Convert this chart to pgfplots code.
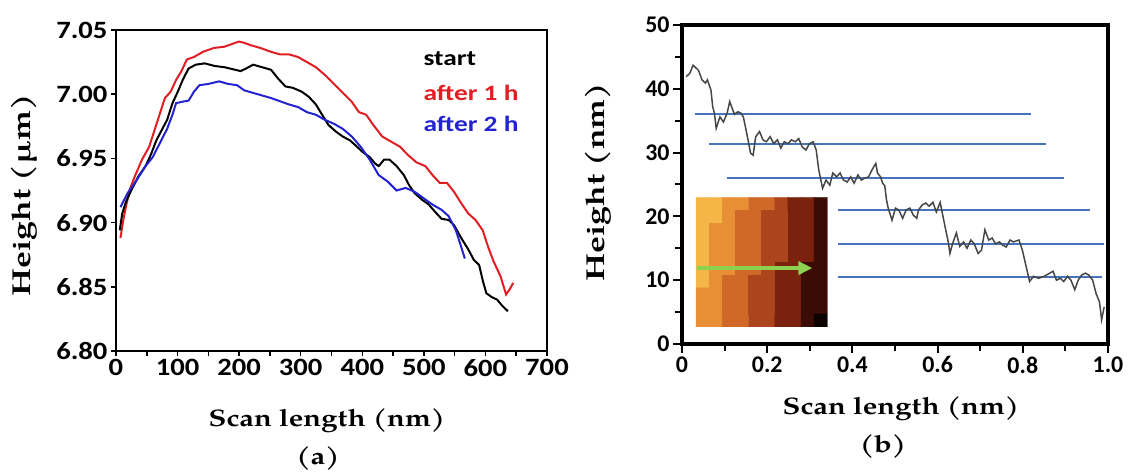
\documentclass[border=0pt]{standalone}
\usepackage{pgfplots}
\pgfplotsset{compat=1.18}
\usepackage{fontspec}
\usetikzlibrary{arrows.meta}
\setmainfont{Carlito}
\newfontfamily\tickA{Carlito}[FakeStretch=1.15]
\newfontfamily\tickB{Carlito}
\newfontfamily\legf{Carlito}[FakeStretch=1.25]
\newfontfamily\pal{texgyrepagella-bold}[Extension=.otf, FakeStretch=1.22]
\newfontfamily\palv{texgyrepagella-bold}[Extension=.otf, FakeStretch=1.3]
\definecolor{cred}{RGB}{225,30,35}
\definecolor{cblue}{RGB}{35,35,210}
\definecolor{lineblue}{RGB}{70,115,190}
\definecolor{arrowgreen}{RGB}{140,210,80}
\definecolor{profile}{RGB}{70,70,70}

\begin{document}
\begin{tikzpicture}
\path[use as bounding box] (0bp,0bp) rectangle (1129bp,475bp);

% ---------- panel (a)
\begin{axis}[
    at={(116bp,124bp)}, anchor=south west,
    width=431bp, height=321bp, scale only axis,
    xmin=0, xmax=700, ymin=6.80, ymax=7.05,
    xtick={0,100,...,700}, minor x tick num=1,
    ytick={6.80,6.85,6.90,6.95,7.00,7.05},
    yticklabel style={/pgf/number format/fixed,
      /pgf/number format/precision=2, /pgf/number format/fixed zerofill},
    /pgf/number format/assume math mode=true,
    tick label style={font=\tickA\bfseries\fontsize{25}{29}\selectfont},
    tick align=outside, tick pos=left,
    major tick length=5bp, minor tick length=5bp,
    tick style={line width=1.5bp, black},
    axis line style={line width=2.5bp},
  ]
  \addplot[cred, line width=2bp] coordinates {
    (7.2,6.888) (11.9,6.902) (16,6.912) (21.8,6.925) (30.5,6.936) (42.2,6.949)
    (53.8,6.959) (62.6,6.972) (71.3,6.985) (79.4,6.997) (88.8,7.002) (97.5,7.011)
    (106.3,7.018) (115,7.027) (126.7,7.029) (141.3,7.033) (158.8,7.036)
    (176.3,7.037) (187.9,7.039) (199.6,7.041) (208.3,7.040) (220,7.038)
    (234.5,7.036) (251.9,7.033) (266.5,7.031) (281,7.031) (295.6,7.029)
    (310.2,7.025) (324.7,7.021) (339.3,7.015) (353.9,7.008) (368.4,7.001)
    (383,6.994) (394.7,6.986) (406.3,6.984) (418,6.976) (432.5,6.967)
    (447.1,6.963) (461.6,6.959) (473.3,6.953) (487.8,6.947) (502.4,6.944)
    (514.1,6.937) (525.7,6.931) (537.4,6.931) (549,6.924) (560.7,6.915)
    (572.3,6.907) (584,6.902) (595.6,6.894) (604.4,6.881) (613.1,6.870)
    (624.7,6.858) (633.5,6.844) (639.3,6.848) (645.2,6.853)
  };
  \addplot[black, line width=2bp] coordinates {
    (6.1,6.894) (10.1,6.907) (16,6.916) (24.7,6.925) (36.4,6.936) (48,6.944)
    (56.7,6.953) (65.5,6.964) (74.2,6.972) (83,6.980) (91.7,6.993) (100.4,7.002)
    (109.2,7.012) (117.9,7.020) (129.6,7.023) (144.2,7.024) (160.1,7.022)
    (176.3,7.021) (193.7,7.019) (202.5,7.018) (211.2,7.020) (222.8,7.023)
    (237.4,7.021) (251.9,7.019) (263.6,7.012) (275.3,7.006) (286.9,7.005)
    (301.5,7.002) (313.1,6.998) (324.7,6.992) (333.5,6.985) (345.1,6.976)
    (356.8,6.971) (368.4,6.967) (380.1,6.964) (391.7,6.959) (400.5,6.955)
    (412.1,6.951) (420.8,6.946) (426.7,6.944) (435.4,6.949) (444.2,6.949)
    (455.8,6.944) (467.5,6.937) (476.2,6.929) (485,6.923) (496.6,6.918)
    (508.2,6.914) (517,6.909) (528.7,6.903) (540.3,6.902) (549,6.898)
    (560.7,6.888) (572.3,6.879) (581.1,6.871) (589.8,6.867) (595.6,6.855)
    (601.5,6.845) (610.2,6.842) (619,6.840) (627.7,6.835) (636.4,6.831)
  };
  \addplot[cblue, line width=2bp] coordinates {
    (7.2,6.912) (18.9,6.923) (33.5,6.933) (48,6.944) (59.7,6.951) (71.3,6.962)
    (83,6.973) (91.7,6.984) (97.5,6.993) (106.3,6.994) (117.9,6.995)
    (126.7,7.002) (135.5,7.007) (150,7.008) (167.5,7.010) (182.1,7.008)
    (196.7,7.007) (208.3,7.003) (222.8,7.001) (237.4,6.999) (251.9,6.997)
    (269.4,6.994) (281,6.992) (295.6,6.990) (310.2,6.986) (324.7,6.984)
    (339.3,6.980) (353.9,6.977) (368.4,6.973) (383,6.967) (397.6,6.959)
    (412.1,6.949) (426.7,6.937) (441.2,6.932) (455.8,6.925) (470.4,6.927)
    (485,6.924) (499.5,6.919) (514.1,6.914) (528.7,6.910) (540.3,6.905)
    (552,6.894) (560.7,6.881) (566.5,6.872)
  };
\end{axis}
\node[anchor=base west, font=\legf\bfseries\fontsize{22}{25}\selectfont, black] at (420bp,409bp) {start};
\node[anchor=base west, font=\legf\bfseries\fontsize{22}{25}\selectfont, cred] at (420bp,374bp) {after 1 h};
\node[anchor=base west, font=\legf\bfseries\fontsize{22}{25}\selectfont, cblue] at (420bp,343bp) {after 2 h};
\node[rotate=90, font=\palv\fontsize{26}{30}\selectfont] at (24bp,280bp) {Height (µm)};
\node[font=\pal\fontsize{24}{28}\selectfont] at (327bp,54bp) {Scan length (nm)};
\node[font=\pal\fontsize{24}{28}\selectfont] at (318bp,16bp) {(a)};

% ---------- panel (b)
\begin{axis}[
    at={(682bp,131bp)}, anchor=south west,
    width=426bp, height=319bp, scale only axis,
    xmin=0, xmax=1, ymin=0, ymax=50,
    xtick={0,0.2,...,1.0}, minor x tick num=1,
    ytick={0,10,...,50}, minor y tick num=1,
    xticklabels={0,0.2,0.4,0.6,0.8,1.0},
    /pgf/number format/assume math mode=true,
    tick label style={font=\tickB\bfseries\fontsize{24}{28}\selectfont},
    tick align=outside, tick pos=left,
    major tick length=9bp, minor tick length=7bp,
    tick style={line width=2bp, black},
    axis line style={line width=3.5bp},
    colormap={afm}{rgb255=(245,182,72) rgb255=(232,142,52) rgb255=(208,104,40)
      rgb255=(172,68,28) rgb255=(122,34,14) rgb255=(58,12,3) rgb255=(14,2,0)},
    point meta min=0, point meta max=6,
  ]
  % inset height map (banded terraces), one cell per coordinate
  \addplot[matrix plot*, mesh/cols=10, point meta=explicit] coordinates {
    (0.0484,21.985) [0] (0.0792,21.985) [0] (0.1100,21.985) [1] (0.1408,21.985) [1] (0.1716,21.985) [2]
    (0.2024,21.985) [2] (0.2332,21.985) [3] (0.2640,21.985) [4] (0.2948,21.985) [4] (0.3256,21.985) [5]

    (0.0484,19.955) [0] (0.0792,19.955) [0] (0.1100,19.955) [1] (0.1408,19.955) [2] (0.1716,19.955) [2]
    (0.2024,19.955) [3] (0.2332,19.955) [3] (0.2640,19.955) [4] (0.2948,19.955) [4] (0.3256,19.955) [5]

    (0.0484,17.925) [0] (0.0792,17.925) [1] (0.1100,17.925) [1] (0.1408,17.925) [2] (0.1716,17.925) [2]
    (0.2024,17.925) [3] (0.2332,17.925) [3] (0.2640,17.925) [4] (0.2948,17.925) [4] (0.3256,17.925) [5]

    (0.0484,15.895) [0] (0.0792,15.895) [1] (0.1100,15.895) [1] (0.1408,15.895) [2] (0.1716,15.895) [2]
    (0.2024,15.895) [3] (0.2332,15.895) [3] (0.2640,15.895) [4] (0.2948,15.895) [4] (0.3256,15.895) [5]

    (0.0484,13.865) [0] (0.0792,13.865) [1] (0.1100,13.865) [1] (0.1408,13.865) [2] (0.1716,13.865) [2]
    (0.2024,13.865) [3] (0.2332,13.865) [3] (0.2640,13.865) [4] (0.2948,13.865) [4] (0.3256,13.865) [5]

    (0.0484,11.835) [0] (0.0792,11.835) [1] (0.1100,11.835) [1] (0.1408,11.835) [2] (0.1716,11.835) [2]
    (0.2024,11.835) [3] (0.2332,11.835) [4] (0.2640,11.835) [4] (0.2948,11.835) [5] (0.3256,11.835) [5]

    (0.0484,9.805) [0] (0.0792,9.805) [1] (0.1100,9.805) [2] (0.1408,9.805) [2] (0.1716,9.805) [3]
    (0.2024,9.805) [3] (0.2332,9.805) [4] (0.2640,9.805) [4] (0.2948,9.805) [5] (0.3256,9.805) [5]

    (0.0484,7.775) [1] (0.0792,7.775) [1] (0.1100,7.775) [2] (0.1408,7.775) [2] (0.1716,7.775) [3]
    (0.2024,7.775) [3] (0.2332,7.775) [4] (0.2640,7.775) [4] (0.2948,7.775) [5] (0.3256,7.775) [5]

    (0.0484,5.745) [1] (0.0792,5.745) [1] (0.1100,5.745) [2] (0.1408,5.745) [2] (0.1716,5.745) [3]
    (0.2024,5.745) [3] (0.2332,5.745) [4] (0.2640,5.745) [4] (0.2948,5.745) [5] (0.3256,5.745) [5]

    (0.0484,3.715) [1] (0.0792,3.715) [1] (0.1100,3.715) [2] (0.1408,3.715) [2] (0.1716,3.715) [3]
    (0.2024,3.715) [3] (0.2332,3.715) [4] (0.2640,3.715) [4] (0.2948,3.715) [5] (0.3256,3.715) [6]
  };
  \addplot[arrowgreen, line width=4.5bp, -{Triangle[length=14bp,width=13bp]}]
    coordinates {(0.035,11.9) (0.306,11.9)};
  % terrace guide lines
  \addplot[lineblue, line width=2bp] coordinates {(0.031,36.0) (0.820,36.0)};
  \addplot[lineblue, line width=2bp] coordinates {(0.064,31.4) (0.854,31.4)};
  \addplot[lineblue, line width=2bp] coordinates {(0.106,26.0) (0.896,26.0)};
  \addplot[lineblue, line width=2bp] coordinates {(0.367,21.0) (0.957,21.0)};
  \addplot[lineblue, line width=2bp] coordinates {(0.367,15.7) (0.990,15.7)};
  \addplot[lineblue, line width=2bp] coordinates {(0.367,10.5) (0.987,10.5)};
  % line profile
  \addplot[profile, line width=1.5bp] coordinates {
    (0.0096,41.9) (0.018,42.4) (0.026,43.7) (0.0386,42.9) (0.047,41.4)
    (0.055,40.9) (0.0595,41.4) (0.068,39.8) (0.072,37.2) (0.076,36.2)
    (0.0803,33.8) (0.089,35.6) (0.0973,34.8) (0.106,36.2) (0.112,38.0)
    (0.123,36.0) (0.131,36.4) (0.138,36.2) (0.144,35.6) (0.152,33.0)
    (0.161,29.9) (0.167,29.6) (0.173,32.5) (0.182,33.3) (0.190,32.0)
    (0.198,31.7) (0.207,32.5) (0.215,31.4) (0.224,32.0) (0.232,30.7)
    (0.240,31.7) (0.249,31.4) (0.257,32.0) (0.266,31.7) (0.274,32.2)
    (0.282,30.9) (0.291,30.4) (0.299,31.4) (0.308,31.7) (0.315,30.4)
    (0.321,27.3) (0.330,24.4) (0.338,25.7) (0.347,24.9) (0.354,26.8)
    (0.363,26.2) (0.371,26.8) (0.379,25.7) (0.388,25.4) (0.396,26.2)
    (0.404,25.2) (0.413,26.5) (0.421,25.7) (0.429,26.0) (0.438,26.2)
    (0.446,27.3) (0.455,28.3) (0.459,26.8) (0.466,26.2) (0.471,25.2)
    (0.476,24.8) (0.480,22.6) (0.484,21.3) (0.493,19.4) (0.501,21.3)
    (0.509,21.0) (0.518,19.7) (0.526,21.0) (0.535,21.3) (0.543,20.2)
    (0.551,19.7) (0.555,21.0) (0.564,21.8) (0.572,22.1) (0.580,21.6)
    (0.589,22.2) (0.597,20.7) (0.606,22.2) (0.612,20.2) (0.619,17.9)
    (0.625,16.0) (0.629,14.2) (0.635,15.7) (0.644,17.4) (0.652,15.3)
    (0.661,16.0) (0.669,15.0) (0.678,16.3) (0.686,15.7) (0.695,14.2)
    (0.703,14.7) (0.711,17.9) (0.720,16.3) (0.728,16.6) (0.736,15.7)
    (0.745,16.0) (0.753,15.5) (0.761,15.2) (0.770,16.3) (0.778,16.0)
    (0.791,16.3) (0.799,14.7) (0.808,12.1) (0.816,9.8) (0.825,10.6)
    (0.837,10.3) (0.850,10.6) (0.863,11.1) (0.871,11.4) (0.879,10.0)
    (0.888,10.3) (0.896,9.8) (0.905,10.6) (0.913,10.0) (0.922,8.5)
    (0.930,10.0) (0.938,10.8) (0.947,11.1) (0.955,10.8) (0.964,10.0)
    (0.972,7.9) (0.980,6.6) (0.985,3.8) (0.991,5.8)
  };
\end{axis}
\node[rotate=90, font=\palv\fontsize{26}{30}\selectfont] at (598bp,293bp) {Height (nm)};
\node[font=\pal\fontsize{24}{28}\selectfont] at (901bp,66bp) {Scan length (nm)};
\node[font=\pal\fontsize{24}{28}\selectfont] at (883bp,28bp) {(b)};
\end{tikzpicture}
\end{document}
